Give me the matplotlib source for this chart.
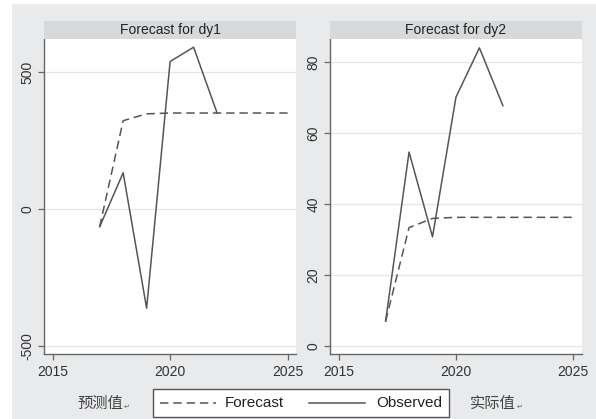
import matplotlib
matplotlib.use("Agg")
import matplotlib.pyplot as plt
from matplotlib.patches import Rectangle
from matplotlib.lines import Line2D

plt.rcParams['font.family'] = ['Liberation Sans', 'Noto Sans CJK SC', 'DejaVu Sans']

# Data
obs_years = [2017, 2018, 2019, 2020, 2021, 2022]
fc_years = [2017, 2018, 2019, 2020, 2021, 2022, 2023, 2024, 2025]

dy1_observed = [-65, 132, -362, 538, 590, 350]
dy1_forecast = [-65, 322, 347, 350, 350, 350, 350, 350, 350]

dy2_observed = [7, 54.7, 30.8, 70.2, 84.1, 67.8]
dy2_forecast = [7, 33.4, 36.0, 36.3, 36.3, 36.3, 36.3, 36.3, 36.3]

titles = ["Forecast for dy1", "Forecast for dy2"]
x_ticks = [2015, 2020, 2025]
dy1_ticks = [-500, 0, 500]
dy2_ticks = [0, 20, 40, 60, 80]
legend_labels = ["Forecast", "Observed"]
left_note = "预测值"
right_note = "实际值"

W, H = 596, 419
fig = plt.figure(figsize=(W / 100, H / 100), dpi=100)
fig.patch.set_facecolor("white")

BG = "#e9eaec"
BAR = "#d8d9db"
LINE = "#555555"
SPINE = "#666666"
GRID = "#e6e6e6"

# outer gray panel, kept behind the axes
fig.patches.append(Rectangle((12 / W, 0), 1 - 12 / W, (H - 4) / H,
                             transform=fig.transFigure, facecolor=BG,
                             edgecolor="none", zorder=-10))


def px_box(x0, y0, x1, y1):
    return [x0 / W, (H - y1) / H, (x1 - x0) / W, (y1 - y0) / H]


panels = [
    dict(box=(44, 39, 296, 354), ylim=(-529, 620), yticks=dy1_ticks,
         obs=dy1_observed, fc=dy1_forecast, title=titles[0]),
    dict(box=(330, 39, 581.7, 354), ylim=(-2.25, 86.6), yticks=dy2_ticks,
         obs=dy2_observed, fc=dy2_forecast, title=titles[1]),
]

for p in panels:
    x0, y0, x1, y1 = p["box"]
    ax = fig.add_axes(px_box(x0, y0, x1, y1))
    ax.set_facecolor("white")
    ax.set_xlim(2014.63, 2025.36)
    ax.set_ylim(*p["ylim"])
    ax.set_xticks(x_ticks)
    ax.set_yticks(p["yticks"])
    ax.set_yticklabels([str(t) for t in p["yticks"]], rotation=90, va="center")
    ax.tick_params(axis="both", colors=SPINE, labelcolor="#333333",
                   labelsize=10, length=4, width=0.9, direction="out", pad=3)
    ax.tick_params(axis="x", pad=4)
    ax.grid(axis="y", color=GRID, linewidth=0.9)
    ax.set_axisbelow(True)
    for s in ("top", "right"):
        ax.spines[s].set_visible(False)
    for s in ("left", "bottom"):
        ax.spines[s].set_color(SPINE)
        ax.spines[s].set_linewidth(1.0)
    ax.plot(fc_years, p["fc"], color=LINE, lw=1.1, dashes=(5.5, 3.2))
    ax.plot(obs_years, p["obs"], color=LINE, lw=1.1)

    # title bar
    fig.patches.append(Rectangle((x0 / W, (H - 39) / H), (x1 - x0) / W, 18 / H,
                                 transform=fig.transFigure, facecolor=BAR,
                                 edgecolor="none", zorder=1))
    fig.text((x0 + x1) / 2 / W, (H - 30) / H, p["title"], ha="center",
             va="center", fontsize=10, color="#222222")

# legend box
lx0, ly0, lx1, ly1 = 153, 388.5, 449, 416.5
fig.patches.append(Rectangle((lx0 / W, (H - ly1) / H), (lx1 - lx0) / W,
                             (ly1 - ly0) / H, transform=fig.transFigure,
                             facecolor="white", edgecolor="#555555",
                             linewidth=1.0, zorder=2))
ym = (H - 403) / H
fig.lines.append(Line2D([160 / W, 216 / W], [ym, ym], transform=fig.transFigure,
                        color=LINE, lw=1.1, dashes=(5.5, 3.2), zorder=3))
fig.text(225 / W, ym, legend_labels[0], ha="left", va="center",
         fontsize=11, color="#222222", zorder=3)
fig.lines.append(Line2D([309 / W, 365 / W], [ym, ym], transform=fig.transFigure,
                        color=LINE, lw=1.1, zorder=3))
fig.text(376 / W, ym, legend_labels[1], ha="left", va="center",
         fontsize=11, color="#222222", zorder=3)

# side notes
fig.text(77 / W, ym, left_note, ha="left", va="center", fontsize=11,
         color="#444444", family=['Noto Sans CJK SC', 'DejaVu Sans'])
fig.text(124 / W, (H - 407) / H, "↵", ha="left", va="center", fontsize=5,
         color="#666666", family=['DejaVu Sans'])
fig.text(470 / W, ym, right_note, ha="left", va="center", fontsize=11,
         color="#444444", family=['Noto Sans CJK SC', 'DejaVu Sans'])
fig.text(517 / W, (H - 407) / H, "↵", ha="left", va="center", fontsize=5,
         color="#666666", family=['DejaVu Sans'])

fig.savefig("out.png", dpi=100, facecolor=fig.get_facecolor())
